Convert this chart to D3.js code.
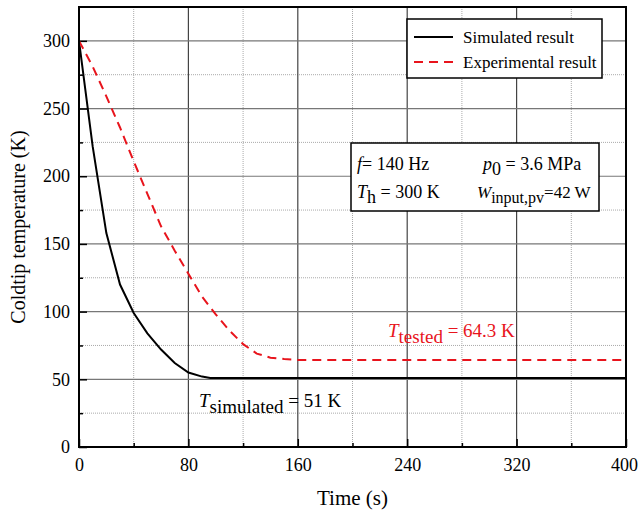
<!DOCTYPE html>
<html>
<head>
<meta charset="utf-8">
<script src="https://d3js.org/d3.v7.min.js"></script>
<style>
  body { margin: 0; background: #fff; }
  svg { display: block; font-family: "Liberation Serif", "Times New Roman", serif; }
</style>
</head>
<body>
<div id="chart"></div>
<script>
// time (s) and temperature (K)
const simTime = [0, 10, 20, 30, 40, 50, 60, 70, 80, 90, 96, 400];
const simTemp = [300, 222, 158, 120, 99, 84, 72, 62, 55, 52, 51, 51];
const expTime = [0, 10, 20, 30, 40, 50, 60, 70, 80, 90, 100, 110, 120, 130, 140, 150, 160, 400];
const expTemp = [300, 281, 259, 236, 211, 187, 163, 145, 128, 111, 98, 86, 76, 69, 66, 65, 64.3, 64.3];
const xTicks = [0, 80, 160, 240, 320, 400];
const yTicks = [0, 50, 100, 150, 200, 250, 300];

const width = 638, height = 513;
const margin = { top: 7, right: 12, bottom: 66, left: 79 };
const w = width - margin.left - margin.right;
const h = height - margin.top - margin.bottom;

const svg = d3.select('#chart').append('svg')
  .attr('width', width)
  .attr('height', height);

const g = svg.append('g')
  .attr('transform', `translate(${margin.left}, ${margin.top})`);

const x = d3.scaleLinear().domain([0, 400]).range([0, w]);
const y = d3.scaleLinear().domain([0, 325]).range([h, 0]);

// minor grid (dotted)
const xMinor = d3.range(40, 400, 80);
const yMinor = d3.range(25, 325, 50);
g.selectAll('.vminor').data(xMinor).enter().append('line')
  .attr('x1', d => x(d)).attr('x2', d => x(d))
  .attr('y1', 0).attr('y2', h)
  .attr('stroke', '#aaa').attr('stroke-width', 1).attr('stroke-dasharray', '1,1');
g.selectAll('.hminor').data(yMinor).enter().append('line')
  .attr('x1', 0).attr('x2', w)
  .attr('y1', d => y(d)).attr('y2', d => y(d))
  .attr('stroke', '#aaa').attr('stroke-width', 1).attr('stroke-dasharray', '1,1');

// major grid
g.selectAll('.vmajor').data(xTicks.slice(1, -1)).enter().append('line')
  .attr('x1', d => x(d)).attr('x2', d => x(d))
  .attr('y1', 0).attr('y2', h)
  .attr('stroke', '#444').attr('stroke-width', 1.2);
g.selectAll('.hmajor').data(yTicks.slice(1)).enter().append('line')
  .attr('x1', 0).attr('x2', w)
  .attr('y1', d => y(d)).attr('y2', d => y(d))
  .attr('stroke', '#777').attr('stroke-width', 1.2);

// axes with inward ticks
const xAxis = g.append('g')
  .attr('transform', `translate(0, ${h})`)
  .call(d3.axisBottom(x).tickValues(xTicks).tickSize(-8).tickPadding(11));
const xAxisMinor = g.append('g')
  .attr('transform', `translate(0, ${h})`)
  .call(d3.axisBottom(x).tickValues(xMinor).tickSize(-4).tickFormat(''));
const yAxis = g.append('g')
  .call(d3.axisLeft(y).tickValues(yTicks).tickSize(-8).tickPadding(9));
const yAxisMinor = g.append('g')
  .call(d3.axisLeft(y).tickValues(yMinor).tickSize(-4).tickFormat(''));

[xAxis, xAxisMinor, yAxis, yAxisMinor].forEach(a => {
  a.select('.domain').remove();
  a.selectAll('line').attr('stroke', '#000').attr('stroke-width', 1.5);
  a.selectAll('text')
    .attr('font-family', '"Liberation Serif", serif')
    .attr('font-size', '18px')
    .attr('fill', '#000');
});
// keep the last x label inside the picture
xAxis.selectAll('.tick text').filter(d => d === 400).attr('dx', -2);

// curves
const line = d3.line().x(d => x(d[0])).y(d => y(d[1]));
const simData = simTime.map((t, i) => [t, simTemp[i]]);
const expData = expTime.map((t, i) => [t, expTemp[i]]);

g.append('path')
  .datum(simData)
  .attr('d', line)
  .attr('fill', 'none')
  .attr('stroke', '#000')
  .attr('stroke-width', 2);

g.append('path')
  .datum(expData)
  .attr('d', line)
  .attr('fill', 'none')
  .attr('stroke', '#e8141c')
  .attr('stroke-width', 2)
  .attr('stroke-dasharray', '9,6');

// frame
g.append('rect')
  .attr('width', w).attr('height', h)
  .attr('fill', 'none').attr('stroke', '#000').attr('stroke-width', 2);

// legend
const legend = svg.append('g').attr('transform', 'translate(407, 19)');
legend.append('rect')
  .attr('width', 195).attr('height', 59)
  .attr('fill', '#fff').attr('stroke', '#000').attr('stroke-width', 1.5);
const legendItems = [
  { label: 'Simulated result', color: '#000', dash: null },
  { label: 'Experimental result', color: '#e8141c', dash: '9,6' }
];
const li = legend.selectAll('.legend-item').data(legendItems).enter().append('g')
  .attr('transform', (d, i) => `translate(0, ${18 + i * 25})`);
li.append('line')
  .attr('x1', 7).attr('x2', 46)
  .attr('stroke', d => d.color).attr('stroke-width', 2)
  .attr('stroke-dasharray', d => d.dash);
li.append('text')
  .attr('x', 56).attr('y', 6)
  .attr('font-size', '17px')
  .text(d => d.label);

// parameter box
const box = svg.append('g').attr('transform', 'translate(351, 143)');
box.append('rect')
  .attr('width', 248).attr('height', 68)
  .attr('fill', '#fff').attr('stroke', '#000').attr('stroke-width', 1.5);

function addText(parent, xPos, yPos, parts, color, size) {
  const t = parent.append('text')
    .attr('x', xPos).attr('y', yPos)
    .attr('font-size', (size || 18) + 'px')
    .attr('fill', color || '#000');
  parts.forEach(p => {
    const s = t.append('tspan').text(p.t);
    if (p.i) s.attr('font-style', 'italic');
    if (p.sub) s.attr('baseline-shift', '-30%');
    if (p.small) s.attr('font-size', p.small + 'px');
  });
  return t;
}

addText(box, 6, 27, [{ t: 'f', i: true }, { t: '= 140 Hz' }]);
addText(box, 132, 27, [{ t: 'p', i: true }, { t: '0', sub: true }, { t: ' = 3.6 MPa' }]);
addText(box, 6, 55, [{ t: 'T', i: true }, { t: 'h', sub: true }, { t: ' = 300 K' }]);
addText(box, 126, 55, [{ t: 'W', i: true }, { t: 'input,pv', sub: true, small: 16 }, { t: '=42 W' }], null, 17);

// annotations
addText(svg, 199, 407, [{ t: 'T', i: true }, { t: 'simulated', sub: true }, { t: ' = 51 K' }], null, 19);
addText(svg, 388, 337, [{ t: 'T', i: true }, { t: 'tested', sub: true }, { t: ' = 64.3 K' }], '#e8141c', 19);

// axis titles
svg.append('text')
  .attr('x', margin.left + w / 2).attr('y', 505)
  .attr('text-anchor', 'middle')
  .attr('font-size', '21px')
  .text('Time (s)');

svg.append('text')
  .attr('transform', `translate(25, ${margin.top + h / 2}) rotate(-90)`)
  .attr('text-anchor', 'middle')
  .attr('font-size', '20px')
  .text('Coldtip temperature (K)');
</script>
</body>
</html>
